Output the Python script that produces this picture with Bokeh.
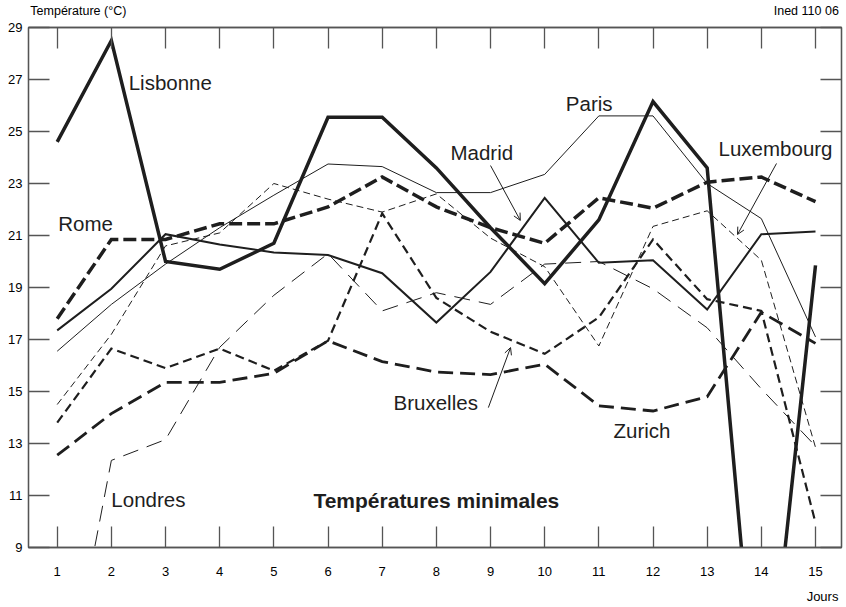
from bokeh.plotting import figure
from bokeh.models import (LinearAxis, FixedTicker, Label, Arrow, OpenHead,
                          CustomLabelingPolicy)
from bokeh.embed import file_html
from bokeh.resources import INLINE

# ---- data ----
days = [1, 2, 3, 4, 5, 6, 7, 8, 9, 10, 11, 12, 13, 14, 15]
y_ticks = [9, 11, 13, 15, 17, 19, 21, 23, 25, 27, 29]

lisbonne = [24.6, 28.5, 20.0, 19.7, 20.7, 25.55, 25.55, 23.6, 21.3, 19.15, 21.6, 26.15, 23.6, 0.5, 19.85]
paris = [16.55, 18.35, 19.9, 21.3, 22.55, 23.75, 23.65, 22.65, 22.65, 23.35, 25.6, 25.6, 23.0, 21.65, 17.1]
madrid = [17.35, 18.95, 21.05, 20.65, 20.35, 20.25, 19.55, 17.65, 19.6, 22.45, 19.95, 20.05, 18.15, 21.05, 21.15]
rome = [17.8, 20.85, 20.85, 21.45, 21.45, 22.1, 23.25, 22.1, 21.3, 20.7, 22.45, 22.05, 23.05, 23.25, 22.3]
luxembourg = [14.5, 17.2, 20.6, 21.1, 23.0, 22.4, 21.9, 22.6, 20.9, 19.8, 16.75, 21.35, 21.95, 20.05, 12.85]
londres = [1.5, 12.35, 13.15, 16.7, 18.7, 20.3, 18.1, 18.8, 18.35, 19.9, 20.0, 18.95, 17.45, 15.1, 12.9]
bruxelles = [13.8, 16.65, 15.9, 16.65, 15.8, 16.95, 21.85, 18.6, 17.3, 16.45, 17.85, 20.85, 18.55, 18.1, 9.95]
zurich = [12.55, 14.15, 15.35, 15.35, 15.7, 16.95, 16.15, 15.75, 15.65, 16.05, 14.45, 14.25, 14.8, 18.05, 16.85]

# city labels: (text, x, y)
city_labels = [
    ("Lisbonne", 2.32, 26.88),
    ("Paris", 10.39, 26.08),
    ("Madrid", 8.26, 24.19),
    ("Luxembourg", 13.21, 24.35),
    ("Rome", 1.02, 21.46),
    ("Bruxelles", 7.21, 14.58),
    ("Zurich", 11.27, 13.5),
    ("Londres", 2.0, 10.85),
]
# arrows: (x_start, y_start, x_end, y_end)
arrows = [
    (9.0, 23.69, 9.55, 21.58),
    (14.28, 23.77, 13.56, 21.04),
    (8.96, 14.38, 9.37, 16.69),
]
# outer texts placed through extra axes: position -> text
top_texts = {1.39: "Température (°C)", 14.83: "Ined 110 06"}
bottom_texts = {15.13: "Jours"}

INK = "#1e1e1e"
FRAME = "#555555"
FONT = "Liberation Sans"

p = figure(width=846, height=607, x_range=(0.47, 15.48), y_range=(9, 29),
           output_backend="svg", toolbar_location=None,
           min_border_left=28, min_border_right=5, min_border_top=27,
           min_border_bottom=60)
p.grid.visible = False
p.outline_line_color = FRAME
p.outline_line_width = 1.3
p.background_fill_color = "white"
p.border_fill_color = "white"

NO_LABELS = "for (const i of indices) { indices.unset(i) } return indices"

def style_axis(ax, ticks, labels=True):
    ax.ticker = FixedTicker(ticks=ticks)
    ax.major_tick_in = 21
    ax.major_tick_out = 0
    ax.minor_tick_line_color = None
    ax.major_tick_line_color = FRAME
    ax.major_tick_line_width = 1.3
    ax.axis_line_color = FRAME
    ax.axis_line_width = 1.3
    if labels:
        ax.major_label_text_font = FONT
        ax.major_label_text_font_size = "13px"
        ax.major_label_text_color = "black"
    else:
        ax.major_label_text_font_size = "1px"
        ax.major_label_standoff = 0
        ax.major_label_policy = CustomLabelingPolicy(code=NO_LABELS)

def text_axis(texts, standoff, size):
    ax = LinearAxis()
    ax.ticker = FixedTicker(ticks=list(texts.keys()))
    ax.major_label_overrides = {k: v for k, v in texts.items()}
    ax.major_tick_in = 0
    ax.major_tick_out = 0
    ax.major_tick_line_color = None
    ax.minor_tick_line_color = None
    ax.axis_line_color = None
    ax.major_label_standoff = standoff
    ax.major_label_text_font = FONT
    ax.major_label_text_font_size = size
    ax.major_label_text_color = "black"
    return ax

style_axis(p.xaxis[0], days)
p.xaxis[0].major_label_standoff = 19
style_axis(p.yaxis[0], y_ticks)
p.yaxis[0].major_label_standoff = 6

top = LinearAxis()
style_axis(top, days, labels=False)
p.add_layout(top, "above")
p.add_layout(text_axis(top_texts, 6, "12.5px"), "above")
p.add_layout(text_axis(bottom_texts, 10, "13px"), "below")

right = LinearAxis()
style_axis(right, y_ticks, labels=False)
p.add_layout(right, "right")

def draw(ys, width, dash):
    p.line(days, ys, line_color=INK, line_width=width, line_dash=dash,
           line_join="miter", line_cap="butt")

draw(paris, 1.0, "solid")
draw(luxembourg, 1.0, "7 4")
draw(londres, 1.0, "16 9")
draw(madrid, 2.0, "solid")
draw(bruxelles, 2.2, "9 5")
draw(zurich, 2.8, "15 7")
draw(rome, 3.5, "13 5")
draw(lisbonne, 3.5, "solid")

for txt, x, y in city_labels:
    p.add_layout(Label(x=x, y=y, text=txt, text_font=FONT, text_font_size="20.5px",
                       text_align="left", text_baseline="middle", text_color=INK))

p.add_layout(Label(x=5.73, y=10.81, text="Températures minimales", text_font=FONT,
                   text_font_size="21px", text_font_style="bold",
                   text_align="left", text_baseline="middle", text_color=INK))

for xs, ys, xe, ye in arrows:
    p.add_layout(Arrow(x_start=xs, y_start=ys, x_end=xe, y_end=ye, line_width=1,
                       line_color=INK,
                       end=OpenHead(size=7, line_width=1, line_color=INK)))

open("out.html", "w").write(file_html(p, INLINE))
